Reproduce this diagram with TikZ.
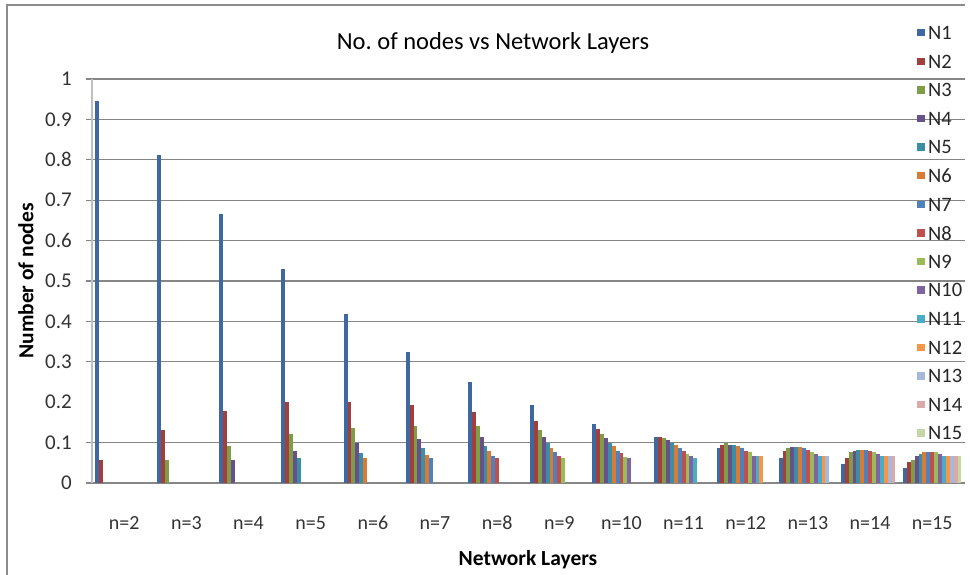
\documentclass[tikz,border=0pt]{standalone}
\usepackage{fontspec}
\setmainfont{Carlito}
\usetikzlibrary{positioning}
\frenchspacing
\definecolor{c1}{HTML}{3E68A0}
\definecolor{c2}{HTML}{A23F3C}
\definecolor{c3}{HTML}{7F9C47}
\definecolor{c4}{HTML}{68508A}
\definecolor{c5}{HTML}{3C8EA5}
\definecolor{c6}{HTML}{D97B35}
\definecolor{c7}{HTML}{4F81BD}
\definecolor{c8}{HTML}{C0504D}
\definecolor{c9}{HTML}{9BBB59}
\definecolor{c10}{HTML}{8064A2}
\definecolor{c11}{HTML}{4BACC6}
\definecolor{c12}{HTML}{F79646}
\definecolor{c13}{HTML}{A7B9DB}
\definecolor{c14}{HTML}{DBA9A8}
\definecolor{c15}{HTML}{C6D7A6}
\definecolor{gridgray}{HTML}{868686}
\definecolor{axisgray}{HTML}{BFBFBF}

\begin{document}
\begin{tikzpicture}[x=1bp,y=-1bp,
  gridline/.style={draw=gridgray,line width=1.2bp},
  ticklabel/.style={anchor=east,inner sep=0pt,text=black!80,font=\fontsize{21bp}{24bp}\selectfont},
  catlabel/.style={inner sep=0pt,text=black!80,font=\fontsize{20bp}{23bp}\selectfont},
  legendlabel/.style={anchor=west,inner sep=0pt,text=black!85,font=\fontsize{20.5bp}{23bp}\selectfont},
  axistitle/.style={inner sep=0pt,font=\bfseries\fontsize{21.5bp}{25bp}\selectfont}]
\useasboundingbox (0,0) rectangle (970,575);
\fill[white] (0,0) rectangle (970,575);
% chart frame
\draw[line width=2bp,black!45] (7,575) -- (7,5) -- (965,5);
% grid
\foreach \v in {0.1,0.3,0.4,0.5,0.6,0.7,0.8,0.9,1.0}
  \draw[gridline] (86,{483-404*\v}) -- (965,{483-404*\v});
\draw[gridline] (86,483) -- (965,483);
\draw[axisgray,line width=1.6bp] (92,79) -- (92,483);
% bars
\foreach \k/\vals in {
  0/{0.945,0.057},
  1/{0.812,0.131,0.057},
  2/{0.666,0.178,0.092,0.057},
  3/{0.530,0.200,0.121,0.079,0.062},
  4/{0.418,0.200,0.136,0.098,0.074,0.062},
  5/{0.324,0.193,0.141,0.109,0.087,0.069,0.062},
  6/{0.250,0.176,0.141,0.114,0.092,0.079,0.067,0.062},
  7/{0.193,0.153,0.131,0.114,0.098,0.087,0.077,0.067,0.062},
  8/{0.146,0.134,0.121,0.111,0.098,0.092,0.079,0.074,0.064,0.062},
  9/{0.113,0.113,0.111,0.106,0.099,0.093,0.086,0.078,0.071,0.066,0.063},
  10/{0.086,0.093,0.098,0.093,0.093,0.091,0.086,0.078,0.076,0.068,0.066,0.066},
  11/{0.063,0.078,0.086,0.088,0.088,0.088,0.086,0.081,0.076,0.071,0.068,0.066,0.066},
  12/{0.048,0.063,0.076,0.078,0.081,0.081,0.081,0.078,0.076,0.071,0.068,0.066,0.066,0.066},
  13/{0.036,0.053,0.058,0.066,0.073,0.076,0.076,0.076,0.076,0.071,0.068,0.066,0.066,0.066,0.066}}
  \foreach \v [count=\j] in \vals
    \fill[c\j] ({95+62.15*\k+3.9*(\j-1)},483) rectangle ++(3.9,{-404*\v});
% y axis labels
\node[ticklabel] (t0) at (72,483) {0};
\node[ticklabel] (t1) at (72,442.6) {0.1};
\node[ticklabel] (t2) at (72,402.2) {0.2};
\node[ticklabel] (t3) at (72,361.8) {0.3};
\node[ticklabel] (t4) at (72,321.4) {0.4};
\node[ticklabel] (t5) at (72,281) {0.5};
\node[ticklabel] (t6) at (72,240.6) {0.6};
\node[ticklabel] (t7) at (72,200.2) {0.7};
\node[ticklabel] (t8) at (72,159.8) {0.8};
\node[ticklabel] (t9) at (72,119.4) {0.9};
\node[ticklabel] (t10) at (72,79) {1};
% category labels
\foreach \n in {2,...,15}
  \node[catlabel] (n\n) at ({124.25+62.15*(\n-2)},523) {n=\n};
% legend
\foreach \j in {1,...,15}{
  \fill[c\j] (917,{29+28.6*(\j-1)}) rectangle ++(7.5,7.5);
  \node[legendlabel] (l\j) at (928,{33+28.6*(\j-1)}) {N\j};
}
% titles
\node[anchor=base,inner sep=0pt,font=\fontsize{24.5bp}{28bp}\selectfont] (title) at (493,50) {No. of nodes vs Network Layers};
\node[axistitle,rotate=90] (ylab) at (26,281) {Number of nodes};
\node[axistitle] (xlab) at (528,560) {Network Layers};
\end{tikzpicture}
\end{document}
